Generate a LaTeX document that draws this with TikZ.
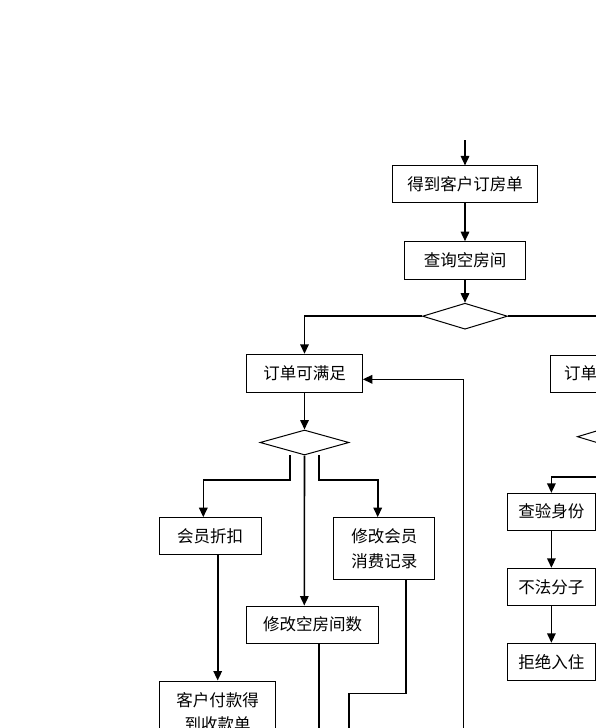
\documentclass[tikz,border=0pt]{standalone}
\usepackage{fontspec}
\setmainfont{Noto Sans CJK SC}
\usetikzlibrary{arrows.meta,shapes.geometric}
\begin{document}
\begin{tikzpicture}[x=1pt,y=-1pt,
  box/.style={draw,line width=1pt,rectangle,inner sep=0pt,align=center,
    font=\fontsize{16.5}{24.5}\selectfont},
  dia/.style={draw,line width=1pt,diamond,inner sep=0pt},
  arr/.style={line width=1.6pt,-{Triangle[length=9.5pt,width=8.5pt]}},
  con/.style={line width=1.6pt}]
\useasboundingbox (0,0) rectangle (596,728);
\clip (0,0) rectangle (596,728);
% nodes
\node[box,minimum width=145pt,minimum height=36.7pt] (n1) at (465,184.3) {得到客户订房单};
\node[box,minimum width=120.7pt,minimum height=37.6pt] (n2) at (465,260.5) {查询空房间};
\node[dia,minimum width=85pt,minimum height=26pt] (d1) at (465,316.2) {};
\node[box,minimum width=115.6pt,minimum height=38pt] (n3) at (304.5,373.3) {订单可满足};
\node[dia,minimum width=89pt,minimum height=25pt] (d2) at (304.5,442.5) {};
\node[box,minimum width=101.7pt,minimum height=37.3pt] (n4) at (210.2,536.3) {会员折扣};
\node[box,minimum width=101.3pt,minimum height=62.3pt] (n5) at (384.3,548.8) {修改会员\\消费记录};
\node[box,minimum width=131.6pt,minimum height=37.3pt] (n6) at (312.5,624.7) {修改空房间数};
\node[box,minimum width=116.4pt,minimum height=62pt] (n7) at (217.7,712) {客户付款得\\到收款单};
\node[box,minimum width=125.6pt,minimum height=37.3pt] (n8) at (613.5,373.7) {订单不可满足};
\node[dia,minimum width=72.4pt,minimum height=22pt] (d3) at (613.5,436.7) {};
\node[box,minimum width=88.2pt,minimum height=36.7pt] (n9) at (551.4,511.7) {查验身份};
\node[box,minimum width=88.2pt,minimum height=37.4pt] (n10) at (551.4,587) {不法分子};
\node[box,minimum width=88.2pt,minimum height=37.4pt] (n11) at (551.4,662) {拒绝入住};
% coordinates
\coordinate (s0) at (465,140);
\coordinate (dl) at (290,455);
\coordinate (dr) at (319,455);
\coordinate (c9) at (551.4,476.7);
\coordinate (e1) at (319,745);
\coordinate (k2) at (349,693.3);
\coordinate (e2) at (349,745);
\coordinate (e3) at (463.3,745);
% connectors
\draw[arr] (s0) -- (n1.north);
\draw[arr] (n1.south) -- (n2.north);
\draw[arr] (n2.south) -- (d1.north);
\draw[arr] (d1.west) -| (n3.north);
\draw[arr] (d1.east) -| (n8.north);
\draw[arr] (n3.south) -- (d2.north);
\draw[arr] (dl) -- (290,480) -| ([xshift=-6.9pt]n4.north);
\draw[arr] (d2.south) -- ([xshift=-8.2pt]n6.north);
\draw[arr] (dr) -- (319,480) -| ([xshift=-6.6pt]n5.north);
\draw[arr] ([xshift=7.5pt]n4.south) -- (n7.north);
\draw[con] ([xshift=6.5pt]n6.south) -- (e1);
\draw[con] ([xshift=21.7pt]n5.south) |- (k2) -- (e2);
\draw[arr] (e3) |- ([yshift=-6pt]n3.east);
\draw[arr] (n8.south) -- (d3.north);
\draw[arr] (d3.south) |- (c9) -- (n9.north);
\draw[arr] (n9.south) -- (n10.north);
\draw[arr] (n10.south) -- (n11.north);
\end{tikzpicture}
\end{document}
